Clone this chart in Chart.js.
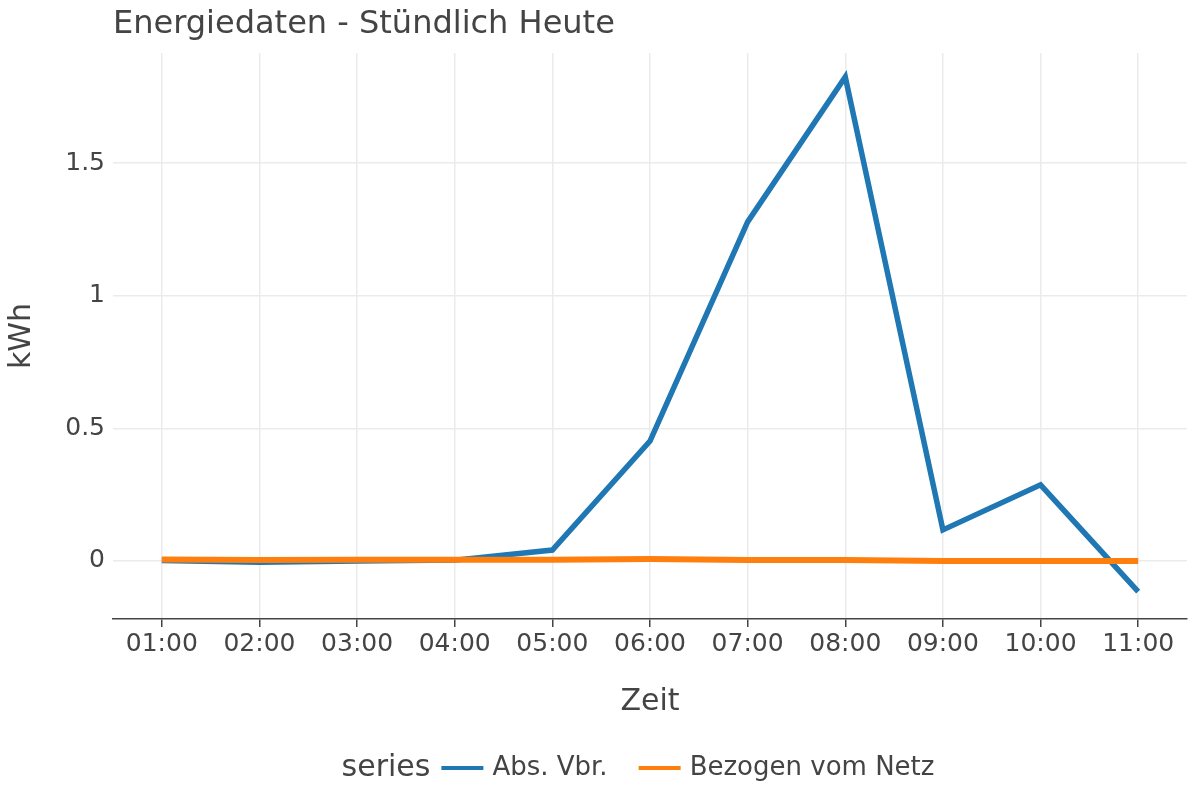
<!DOCTYPE html>
<html>
<head>
<meta charset="utf-8">
<script src="https://cdn.jsdelivr.net/npm/chart.js@4"></script>
<style>
  html, body { margin: 0; padding: 0; background: #fff; }
  #wrap { width: 1200px; height: 800px; }
</style>
</head>
<body>
<div id="wrap"><canvas id="chart" width="1200" height="800"></canvas></div>
<script>
// chart data
const hours = ['01:00', '02:00', '03:00', '04:00', '05:00', '06:00', '07:00', '08:00', '09:00', '10:00', '11:00'];
const absVbr = [0.002, -0.005, 0.0, 0.003, 0.041, 0.452, 1.278, 1.825, 0.117, 0.287, -0.116];
const bezogen = [0.005, 0.003, 0.004, 0.004, 0.004, 0.007, 0.003, 0.003, 0.0, 0.0, 0.0];
const yTicks = [0, 0.5, 1, 1.5];

const FONT = "'DejaVu Sans', sans-serif";
const TEXT = '#444';

// title drawn over the plot's left edge
const titlePlugin = {
  id: 'leftTitle',
  afterDraw(chart) {
    const ctx = chart.ctx;
    ctx.save();
    ctx.font = '32px ' + FONT;
    ctx.fillStyle = TEXT;
    ctx.textBaseline = 'middle';
    ctx.textAlign = 'left';
    ctx.fillText('Energiedaten - Stündlich Heute', chart.chartArea.left, 25);
    ctx.restore();
  }
};

// legend row at the bottom: "series" then the items
const legendPlugin = {
  id: 'rowLegend',
  afterDraw(chart) {
    const ctx = chart.ctx;
    const y = 768;
    ctx.save();
    ctx.textBaseline = 'middle';
    ctx.textAlign = 'left';
    ctx.font = '30px ' + FONT;
    const titleW = ctx.measureText('series').width;
    ctx.font = '26px ' + FONT;
    const sets = chart.data.datasets;
    const widths = sets.map(d => ctx.measureText(d.label).width);
    const lineW = 42, gap1 = 11, gap2 = 9, gapItem = 31;
    let total = titleW;
    widths.forEach((w, i) => { total += (i === 0 ? gap1 : gapItem) + lineW + gap2 + w; });
    let x = 638 - total / 2;
    ctx.font = '30px ' + FONT;
    ctx.fillStyle = TEXT;
    ctx.fillText('series', x, y);
    x += titleW;
    sets.forEach((d, i) => {
      x += (i === 0 ? gap1 : gapItem);
      ctx.strokeStyle = d.borderColor;
      ctx.lineWidth = 4;
      ctx.beginPath();
      ctx.moveTo(x, y);
      ctx.lineTo(x + lineW, y);
      ctx.stroke();
      x += lineW + gap2;
      ctx.font = '26px ' + FONT;
      ctx.fillStyle = TEXT;
      ctx.fillText(d.label, x, y);
      x += widths[i];
    });
    ctx.restore();
  }
};

Chart.defaults.font.family = FONT;
Chart.defaults.color = TEXT;

const ctx = document.getElementById('chart').getContext('2d');
new Chart(ctx, {
  type: 'line',
  data: {
    labels: hours,
    datasets: [{
      label: 'Abs. Vbr.',
      data: absVbr,
      borderColor: '#1f77b4',
      borderWidth: 5.5,
      pointRadius: 0,
      tension: 0,
      borderJoinStyle: 'miter',
      fill: false,
      order: 1
    }, {
      label: 'Bezogen vom Netz',
      data: bezogen,
      borderColor: '#ff7f0e',
      borderWidth: 6,
      pointRadius: 0,
      tension: 0,
      fill: false,
      order: 0
    }]
  },
  options: {
    responsive: false,
    animation: false,
    layout: { padding: { top: 53, right: 13, bottom: 80, left: 0 } },
    plugins: {
      legend: { display: false },
      title: { display: false },
      tooltip: { enabled: false }
    },
    scales: {
      x: {
        offset: true,
        grid: { offset: false, color: '#ebebeb', lineWidth: 1.5, tickColor: TEXT, tickLength: 8 },
        border: { display: true, color: TEXT, width: 1.5 },
        ticks: { font: { size: 25 }, color: TEXT, padding: 2, maxRotation: 0 },
        title: { display: true, text: 'Zeit', font: { size: 30 }, color: TEXT, padding: { top: 0, bottom: 0 } },
        afterFit(scale) { scale.height = 101; }
      },
      y: {
        min: -0.219,
        max: 1.915,
        afterBuildTicks(scale) { scale.ticks = yTicks.map(v => ({ value: v })); },
        grid: { color: '#ebebeb', lineWidth: 1.5, drawTicks: false },
        border: { display: false },
        ticks: { font: { size: 25 }, color: TEXT, padding: 8, callback: v => String(v) },
        title: { display: true, text: 'kWh', font: { size: 30 }, color: TEXT, padding: { top: 4, bottom: 4 } },
        afterFit(scale) { scale.width = 113; }
      }
    }
  },
  plugins: [titlePlugin, legendPlugin]
});
</script>
</body>
</html>
